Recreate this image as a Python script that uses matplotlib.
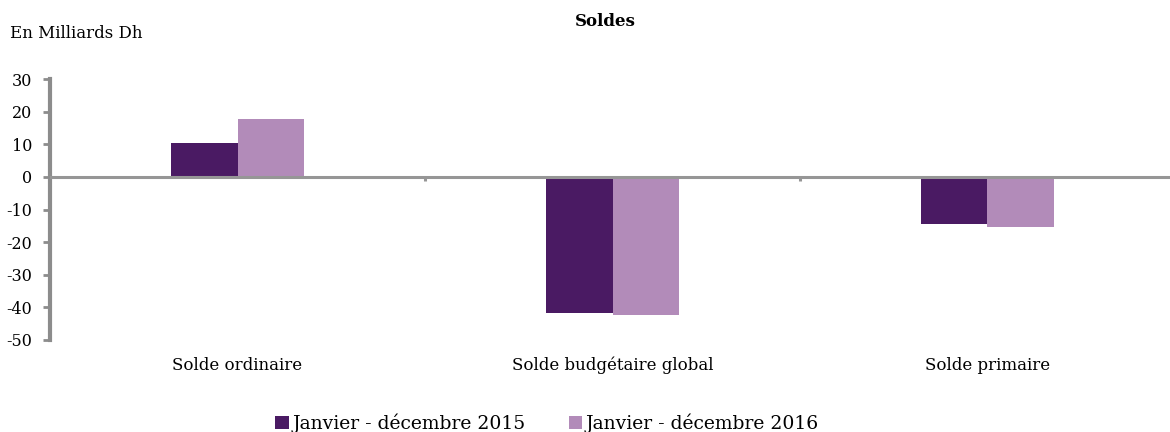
import matplotlib
matplotlib.use("Agg")
import matplotlib.pyplot as plt
import numpy as np

# data
categories = ["Solde ordinaire", "Solde budgétaire global", "Solde primaire"]
serie_2015 = [10.3, -41.6, -14.3]
serie_2016 = [17.7, -42.4, -15.3]
labels = ["Janvier - décembre 2015", "Janvier - décembre 2016"]
colors = ["#4a1a63", "#b28bb9"]
yticks = [30, 20, 10, 0, -10, -20, -30, -40, -50]

plt.rcParams['font.family'] = ['DejaVu Serif', 'Liberation Serif']

fig = plt.figure(figsize=(11.7, 4.32), dpi=100)
ax = fig.add_axes([50/1170, 1-340/432, 1125/1170, 261/432])

x = np.arange(len(categories))
w = 0.177
ax.bar(x - w/2, serie_2015, w, color=colors[0], label=labels[0], zorder=2)
ax.bar(x + w/2, serie_2016, w, color=colors[1], label=labels[1], zorder=2)

ax.set_xlim(-0.5, len(categories) - 0.5)
ax.set_ylim(-50, 30)
ax.set_yticks(yticks)
ax.set_yticklabels([str(v) for v in yticks], fontsize=11.5)

# zero line with small separators between categories
ax.axhline(0, color="#969696", lw=2.2, zorder=3)
ax.vlines(x[:-1] + 0.5, -1.2, 0, color="#969696", lw=2.2, zorder=3)

ax.set_xticks(x)
ax.set_xticklabels(categories, fontsize=12)
ax.tick_params(axis='x', length=0, pad=12)
ax.tick_params(axis='y', length=5, width=2, color="#8c8c8c", pad=8)

for s in ['top', 'right', 'bottom']:
    ax.spines[s].set_visible(False)
ax.spines['left'].set_color("#8c8c8c")
ax.spines['left'].set_linewidth(3)

fig.text(605/1170, 1-22/432, "Soldes", ha='center', va='center',
         fontsize=12, fontweight='bold')
fig.text(10/1170, 1-33/432, "En Milliards Dh", ha='left', va='center', fontsize=12)

fig.legend(loc='center', bbox_to_anchor=(547/1170, 1-423/432), ncol=2,
           frameon=False, fontsize=13.5, handlelength=0.7, handleheight=0.7,
           handletextpad=0.2, columnspacing=2.3)

fig.savefig("out.png", dpi=100)
